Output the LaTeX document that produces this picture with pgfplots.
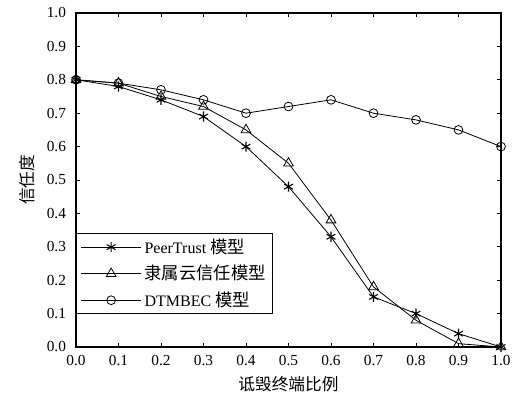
\documentclass[border=0pt]{standalone}
\usepackage{pgfplots}
\pgfplotsset{compat=1.18}
\usepackage{fontspec}
\setmainfont{Liberation Serif}
\newfontfamily\cjk{Noto Sans CJK SC}
\begin{document}
\begin{tikzpicture}
\begin{axis}[
  scale only axis,
  width=318.75pt, height=250.5pt,
  xmin=0, xmax=1, ymin=0, ymax=1,
  xtick={0,0.1,...,1.01}, ytick={0,0.1,...,1.01},
  tick align=inside, major tick length=3pt,
  tick style={black, line width=0.6pt},
  axis line style={line width=1.1pt},
  /pgf/number format/assume math mode=true,
  /pgf/number format/.cd, fixed, fixed zerofill, precision=1, /pgfplots/.cd,
  tick label style={font=\fontsize{11.5}{13}\selectfont},
  xticklabel style={yshift=-3pt},
  yticklabel style={xshift=-4pt},
  xlabel={\cjk\fontsize{12.5}{14}\selectfont 诋毁终端比例},
  ylabel={\cjk\fontsize{12.5}{14}\selectfont 信任度},
  xlabel style={yshift=-1pt},
  ylabel style={yshift=2pt},
  legend style={at={(rel axis cs:0,0.341)}, anchor=north west, draw=black, line width=0.6pt,
    font=\fontsize{12}{14}\selectfont, inner xsep=3pt, inner ysep=2pt, row sep=3.5pt, cells={anchor=west},
    legend image post style={line width=0.6pt}},
  legend image code/.code={\draw[mark repeat=2,mark phase=2] plot coordinates {(0cm,0cm)(0.8cm,0cm)(1.6cm,0cm)};},
  every axis plot/.append style={black, line width=0.6pt},
]
\addplot[mark=asterisk, mark size=3.8pt, mark options={line width=0.8pt}] coordinates {
(0.0,0.80)(0.1,0.78)(0.2,0.74)(0.3,0.69)(0.4,0.60)(0.5,0.48)(0.6,0.33)(0.7,0.15)(0.8,0.10)(0.9,0.04)(1.0,0.00)};
\addlegendentry{PeerTrust {\cjk\fontsize{13}{14}\selectfont 模型}}
\addplot[mark=triangle, mark size=4.2pt] coordinates {
(0.0,0.80)(0.1,0.79)(0.2,0.75)(0.3,0.72)(0.4,0.65)(0.5,0.55)(0.6,0.38)(0.7,0.18)(0.8,0.08)(0.9,0.01)(1.0,0.00)};
\addlegendentry{{\cjk\fontsize{13}{14}\selectfont 隶属云信任模型}}
\addplot[mark=o, mark size=3.3pt] coordinates {
(0.0,0.80)(0.1,0.79)(0.2,0.77)(0.3,0.74)(0.4,0.70)(0.5,0.72)(0.6,0.74)(0.7,0.70)(0.8,0.68)(0.9,0.65)(1.0,0.60)};
\addlegendentry{DTMBEC {\cjk\fontsize{13}{14}\selectfont 模型}}
\end{axis}
\pgfresetboundingbox
\path ([shift={(-57pt,-41.25pt)}]current axis.south west) rectangle ([shift={(12.75pt,9.75pt)}]current axis.north east);
\end{tikzpicture}
\end{document}
